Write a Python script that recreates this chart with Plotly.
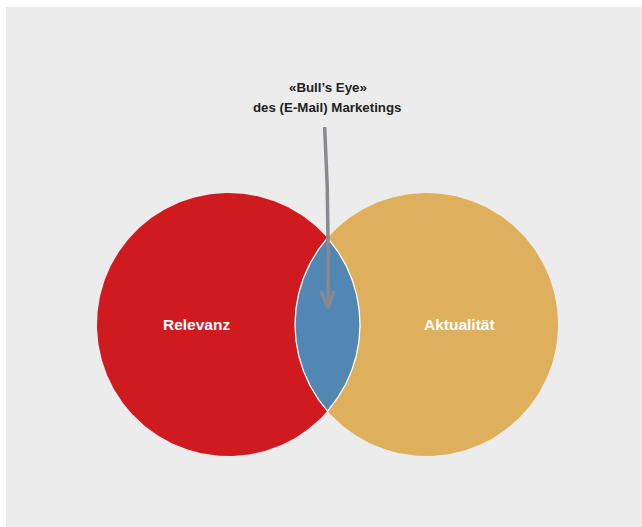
import numpy as np
import plotly.graph_objects as go

# ---- data ----
set_labels = ["Relevanz", "Aktualität"]
set_radii = [1.0, 1.0]
center_distance = 1.506          # distance between the two set centres (radius units)
set_colors = ["#cf1a20", "#dfb05b"]
overlap_label_lines = ["«Bull’s Eye»", "des (E-Mail) Marketings"]
overlap_color = "#5287b4"

# ---- geometry from the data ----
rA, rB = set_radii
d = center_distance
cA, cB = 0.0, d
xi = (d * d + rA * rA - rB * rB) / (2 * d)     # x of intersection chord
h = np.sqrt(rA * rA - xi * xi)

t = np.linspace(0, 2 * np.pi, 361)
fig = go.Figure()

for c, r, col, name in [(cA, rA, set_colors[0], set_labels[0]), (cB, rB, set_colors[1], set_labels[1])]:
    fig.add_trace(go.Scatter(x=c + r * np.cos(t), y=r * np.sin(t), mode="lines",
                             fill="toself", fillcolor=col, line=dict(width=0, color=col),
                             hoverinfo="skip", name=name, showlegend=False))

# lens (intersection)
aA = np.arctan2(h, xi - cA)
aB = np.arctan2(h, xi - cB)
tb = np.linspace(aB, 2 * np.pi - aB, 120)
ta = np.linspace(-aA, aA, 120)
lx = np.concatenate([cB + rB * np.cos(tb), cA + rA * np.cos(ta)])
ly = np.concatenate([rB * np.sin(tb), rA * np.sin(ta)])
fig.add_trace(go.Scatter(x=lx, y=ly, mode="lines", fill="toself", fillcolor=overlap_color,
                         line=dict(width=1.3, color="white"), hoverinfo="skip", showlegend=False))

# arrow from label down into the lens (slight curve)
s = np.linspace(0, 1, 40)
x0, y0 = xi - 0.022, 1.502
xc, yc = xi + 0.012, 0.95
x1, y1 = xi + 0.004, 0.125
ax = (1 - s) ** 2 * x0 + 2 * (1 - s) * s * xc + s ** 2 * x1
ay = (1 - s) ** 2 * y0 + 2 * (1 - s) * s * yc + s ** 2 * y1
fig.add_trace(go.Scatter(x=ax, y=ay, mode="lines", line=dict(width=3.5, color="#878a8e"),
                         hoverinfo="skip", showlegend=False))
fig.add_trace(go.Scatter(x=[x1 - 0.055, x1, x1 + 0.045], y=[y1 + 0.13, y1, y1 + 0.13], mode="lines",
                         line=dict(width=3.5, color="#878a8e"), hoverinfo="skip", showlegend=False))

# labels
lab_font = dict(family="Liberation Sans, Arial, sans-serif", size=15.5, color="white")
fig.add_annotation(x=(cA - rA + cB - rB) / 2, y=0, text="<b>%s</b>" % set_labels[0],
                   showarrow=False, font=lab_font, xanchor="center", yanchor="middle")
fig.add_annotation(x=(cA + rA + cB + rB) / 2, y=0, text="<b>%s</b>" % set_labels[1],
                   showarrow=False, font=lab_font, xanchor="center", yanchor="middle")
title_font = dict(family="Liberation Sans, Arial, sans-serif", size=13.3, color="#222222")
for i, line in enumerate(overlap_label_lines):
    fig.add_annotation(x=xi, y=1.80 - i * 0.152, text="<b>%s</b>" % line, showarrow=False,
                       font=title_font, xanchor="center", yanchor="middle", align="center")

W, H = 642, 527
scale = 131.5
px_cx, px_cy = 228.5, 324.5
fig.update_layout(
    width=W, height=H, autosize=False,
    margin=dict(l=0, r=0, t=0, b=0),
    paper_bgcolor="white", plot_bgcolor="rgba(0,0,0,0)",
    xaxis=dict(range=[(0 - px_cx) / scale, (W - px_cx) / scale], visible=False, fixedrange=True),
    yaxis=dict(range=[(px_cy - H) / scale, px_cy / scale], visible=False, fixedrange=True),
    shapes=[dict(type="rect", xref="paper", yref="paper", x0=6 / W, x1=1, y0=0, y1=1 - 7 / H,
                 fillcolor="#ececec", line=dict(width=0), layer="below")],
    showlegend=False,
)
fig.write_html("out.html", config={"displayModeBar": False},
               post_script="document.body.style.margin='0';document.body.style.overflow='hidden';")
